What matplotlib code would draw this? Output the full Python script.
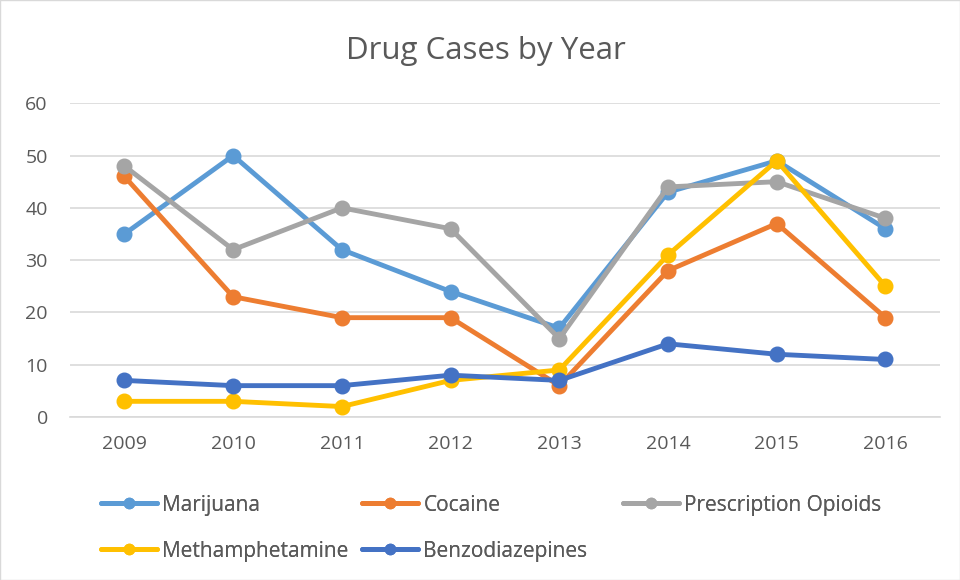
import matplotlib
matplotlib.use("Agg")
import matplotlib.pyplot as plt
from matplotlib.patches import Rectangle

# ---------------------------------------------------------------------------
# Data
# ---------------------------------------------------------------------------

years = ["2009", "2010", "2011", "2012", "2013", "2014", "2015", "2016"]
marijuana = [35, 50, 32, 24, 17, 43, 49, 36]
cocaine = [46, 23, 19, 19, 6, 28, 37, 19]
opioids = [48, 32, 40, 36, 15, 44, 45, 38]
meth = [3, 3, 2, 7, 9, 31, 49, 25]
benzo = [7, 6, 6, 8, 7, 14, 12, 11]

series = [
    ("Marijuana", marijuana, "#5B9BD5"),
    ("Cocaine", cocaine, "#ED7D31"),
    ("Prescription Opioids", opioids, "#A5A5A5"),
    ("Methamphetamine", meth, "#FFC000"),
    ("Benzodiazepines", benzo, "#4472C4"),
]

text_color = "#595959"
grid_color = "#D9D9D9"

plt.rcParams["font.family"] = ["Open Sans", "DejaVu Sans"]

fig = plt.figure(figsize=(9.6, 5.8), dpi=100)
ax = fig.add_axes([0.073, 0.281, 0.906, 0.541])

x = list(range(len(years)))
handles = {}
for name, vals, color in series:
    (ln,) = ax.plot(
        x, vals, color=color, linewidth=3.5, marker="o", markersize=10.5,
        label=name, clip_on=False, zorder=3,
        solid_capstyle="round", solid_joinstyle="round",
    )
    handles[name] = ln

ax.set_xlim(-0.5, len(years) - 0.5)
ax.set_ylim(0, 60)
ax.set_yticks(range(0, 61, 10))
ax.set_xticks(x)
ax.set_xticklabels(years)
ax.tick_params(axis="x", length=0, pad=13, labelsize=14, colors=text_color)
ax.tick_params(axis="y", length=0, pad=16, labelsize=14, colors=text_color)

ax.grid(True, axis="y", color=grid_color, linewidth=1.2, zorder=0)
ax.set_axisbelow(True)
for side in ("top", "right", "left"):
    ax.spines[side].set_visible(False)
ax.spines["bottom"].set_color(grid_color)
ax.spines["bottom"].set_linewidth(1.2)

fig.text(0.506, 0.898, "Drug Cases by Year", ha="center", va="baseline",
         fontsize=22.5, color=text_color)

# legend: three columns placed like the original (row-major order)
columns = [
    (101, ["Marijuana", "Methamphetamine"]),
    (362, ["Cocaine", "Benzodiazepines"]),
    (623, ["Prescription Opioids"]),
]
for xpix, names in columns:
    leg = fig.legend(
        [handles[n] for n in names], names,
        loc="upper left", bbox_to_anchor=(xpix / 960, 0.147), frameon=False,
        fontsize=15, handlelength=2.7, handletextpad=0.25, labelspacing=1.2,
        markerscale=0.7, borderaxespad=0, borderpad=0,
    )
    for t in leg.get_texts():
        t.set_color(text_color)
    fig.add_artist(leg)

fig.patches.append(Rectangle((0.0005, 0.0005), 0.999, 0.999, transform=fig.transFigure,
                             fill=False, edgecolor="#D9D9D9", linewidth=1))

fig.savefig("out.png", dpi=100, facecolor="white")
